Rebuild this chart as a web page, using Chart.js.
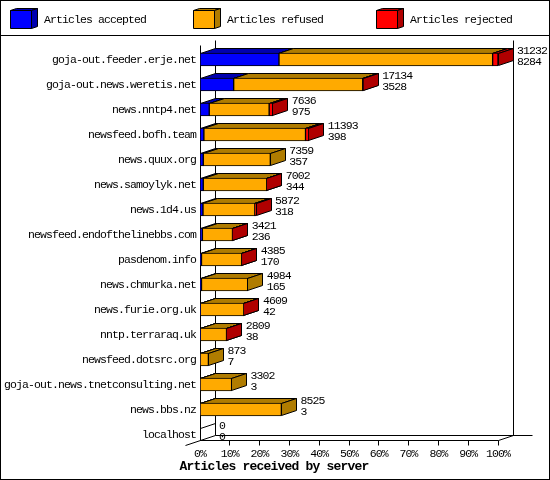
<!DOCTYPE html>
<html>
<head>
<meta charset="utf-8">
<style>
html, body { margin: 0; padding: 0; background: #fff; }
canvas { display: block; }
</style>
<script src="https://cdn.jsdelivr.net/npm/chart.js@4"></script>
</head>
<body>
<canvas id="myChart" width="550" height="480"></canvas>
<script>
const hosts = ['goja-out.feeder.erje.net', 'goja-out.news.weretis.net', 'news.nntp4.net', 'newsfeed.bofh.team',
    'news.quux.org', 'news.samoylyk.net', 'news.1d4.us', 'newsfeed.endofthelinebbs.com', 'pasdenom.info',
    'news.chmurka.net', 'news.furie.org.uk', 'nntp.terraraq.uk', 'newsfeed.dotsrc.org',
    'goja-out.news.tnetconsulting.net', 'news.bbs.nz', 'localhost'];
// percent of the biggest server
const accepted = [26.5, 11.3, 3.1, 1.3, 1.1, 1.1, 1.0, 0.8, 0.5, 0.5, 0.1, 0.1, 0.02, 0.01, 0.01, 0];
const refused = [71.7, 43.3, 20.1, 34.1, 22.5, 21.3, 17.4, 10.1, 13.5, 15.5, 14.6, 8.8, 2.8, 10.6, 27.3, 0];
const rejected = [1.8, 0.2, 1.2, 1.1, 0, 0.02, 0.4, 0.05, 0.05, 0, 0.05, 0.05, 0, 0, 0, 0];
const totalLabels = ['31232', '17134', '7636', '11393', '7359', '7002', '5872', '3421', '4385', '4984', '4609', '2809', '873', '3302', '8525', '0'];
const acceptedLabels = ['8284', '3528', '975', '398', '357', '344', '318', '236', '170', '165', '42', '38', '7', '3', '3', '0'];
const axisTitle = 'Articles received by server';

const seriesNames = ['Articles accepted', 'Articles refused', 'Articles rejected'];
const frontColors = ['#0000ff', '#ffaa00', '#ff0000'];
const darkColors = ['#0000b0', '#b07c00', '#b00000'];
const legendX = [10, 193, 376];
const fontName = '"Liberation Mono", monospace';
const fontSize = 11.5;
const spacing = '-0.9px';
const depthX = 15, depthY = 5;

const px = (v) => Math.floor(v) + 0.5;

function poly(ctx, pts, fill) {
    ctx.beginPath();
    pts.forEach((p, i) => i ? ctx.lineTo(p[0], p[1]) : ctx.moveTo(p[0], p[1]));
    ctx.closePath();
    if (fill) {
        ctx.fillStyle = fill;
        ctx.fill();
    }
    ctx.stroke();
}

function line(ctx, x1, y1, x2, y2) {
    ctx.beginPath();
    ctx.moveTo(x1, y1);
    ctx.lineTo(x2, y2);
    ctx.stroke();
}

const depthPlugin = {
    id: 'depth',
    beforeDraw(chart) {
        const ctx = chart.ctx;
        ctx.fillStyle = '#fff';
        ctx.fillRect(0, 0, 550, 480);
        ctx.letterSpacing = spacing;
    },
    // walls, then top and side of every segment; the fronts are the real bars
    beforeDatasetsDraw(chart) {
        const ctx = chart.ctx;
        const left = px(chart.scales.x.getPixelForValue(0));
        const right = px(chart.scales.x.getPixelForValue(100));
        const top = 45.5, bottom = 440.5;
        ctx.save();
        ctx.strokeStyle = '#000';
        ctx.lineWidth = 1;
        line(ctx, left, top, left, bottom);
        line(ctx, left + depthX, top - depthY, left + depthX, bottom - depthY);
        line(ctx, right + depthX, top - depthY, right + depthX, bottom - depthY);
        line(ctx, left, bottom, right, bottom);
        line(ctx, left + depthX, bottom - depthY, right + depthX + 19, bottom - depthY);
        line(ctx, left - depthX, bottom + depthY, left + depthX, bottom - depthY);
        line(ctx, right, bottom, right + depthX, bottom - depthY);
        chart.scales.x.ticks.forEach((t) => {
            if (t.value > 0) {
                const x = px(chart.scales.x.getPixelForValue(t.value));
                line(ctx, x, bottom, x, bottom + 5);
            }
        });
        chart.data.datasets.forEach((ds, d) => {
            chart.getDatasetMeta(d).data.forEach((bar, i) => {
                const p = bar.getProps(['x', 'y', 'base', 'height'], true);
                const x0 = px(p.base), x1 = px(p.x);
                const y0 = px(p.y - p.height / 2), y1 = px(p.y + p.height / 2 - 1);
                if (ds.data[i] === 0) {
                    if (d === 0) line(ctx, x0, y0, x0 + depthX, y0 - depthY);
                    return;
                }
                poly(ctx, [[x0, y0], [x0 + depthX, y0 - depthY], [x1 + depthX, y0 - depthY], [x1, y0]], darkColors[d]);
                poly(ctx, [[x1, y0], [x1 + depthX, y0 - depthY], [x1 + depthX, y1 - depthY], [x1, y1]], darkColors[d]);
            });
        });
        ctx.restore();
    },
    afterDatasetsDraw(chart) {
        const ctx = chart.ctx;
        ctx.save();
        ctx.font = fontSize + 'px ' + fontName;
        ctx.letterSpacing = spacing;
        ctx.fillStyle = '#000';
        ctx.textAlign = 'left';
        ctx.textBaseline = 'middle';
        // the two numbers right of each bar
        hosts.forEach((h, i) => {
            const x = chart.scales.x.getPixelForValue(accepted[i] + refused[i] + rejected[i]) + depthX + 4;
            const y = chart.scales.y.getPixelForValue(i);
            ctx.fillText(totalLabels[i], x, y - 9);
            ctx.fillText(acceptedLabels[i], x, y + 2);
        });
        // legend
        ctx.strokeStyle = '#000';
        seriesNames.forEach((name, d) => {
            const x = legendX[d] + 0.5;
            poly(ctx, [[x, 10.5], [x + 6, 8.5], [x + 27, 8.5], [x + 21, 10.5]], darkColors[d]);
            poly(ctx, [[x + 21, 10.5], [x + 27, 8.5], [x + 27, 26.5], [x + 21, 28.5]], darkColors[d]);
            poly(ctx, [[x, 10.5], [x + 21, 10.5], [x + 21, 28.5], [x, 28.5]], frontColors[d]);
            ctx.fillStyle = '#000';
            ctx.fillText(name, legendX[d] + 34, 20);
        });
        line(ctx, 0, 35.5, 550, 35.5);
        ctx.strokeRect(0.5, 0.5, 549, 479);
        ctx.font = 'bold 13px ' + fontName;
        ctx.letterSpacing = '-0.8px';
        ctx.textAlign = 'center';
        ctx.fillText(axisTitle, 274, 467);
        ctx.restore();
    }
};

new Chart(document.getElementById('myChart').getContext('2d'), {
    type: 'bar',
    data: {
        labels: hosts,
        datasets: [accepted, refused, rejected].map((values, d) => ({
            label: seriesNames[d],
            data: values,
            backgroundColor: frontColors[d],
            borderColor: '#000',
            borderWidth: 1,
            borderSkipped: false,
            barThickness: 13
        }))
    },
    plugins: [depthPlugin],
    options: {
        indexAxis: 'y',
        responsive: false,
        animation: false,
        devicePixelRatio: 1,
        layout: { padding: { top: 47, right: 52, left: 0, bottom: 0 } },
        plugins: { legend: { display: false }, tooltip: { enabled: false } },
        scales: {
            x: {
                stacked: true,
                min: 0,
                max: 100,
                afterFit: (scale) => { scale.height = 33; },
                grid: { display: false, tickLength: 0 },
                border: { display: false },
                ticks: {
                    stepSize: 10,
                    autoSkip: false,
                    maxRotation: 0,
                    padding: 0,
                    color: '#000',
                    font: { family: fontName, size: fontSize },
                    callback: (v) => v + '%'
                }
            },
            y: {
                stacked: true,
                afterFit: (scale) => { scale.width = 200; },
                grid: { display: false, tickLength: 0 },
                border: { display: false },
                ticks: {
                    autoSkip: false,
                    padding: 4,
                    color: '#000',
                    font: { family: fontName, size: fontSize }
                }
            }
        }
    }
});
</script>
</body>
</html>
